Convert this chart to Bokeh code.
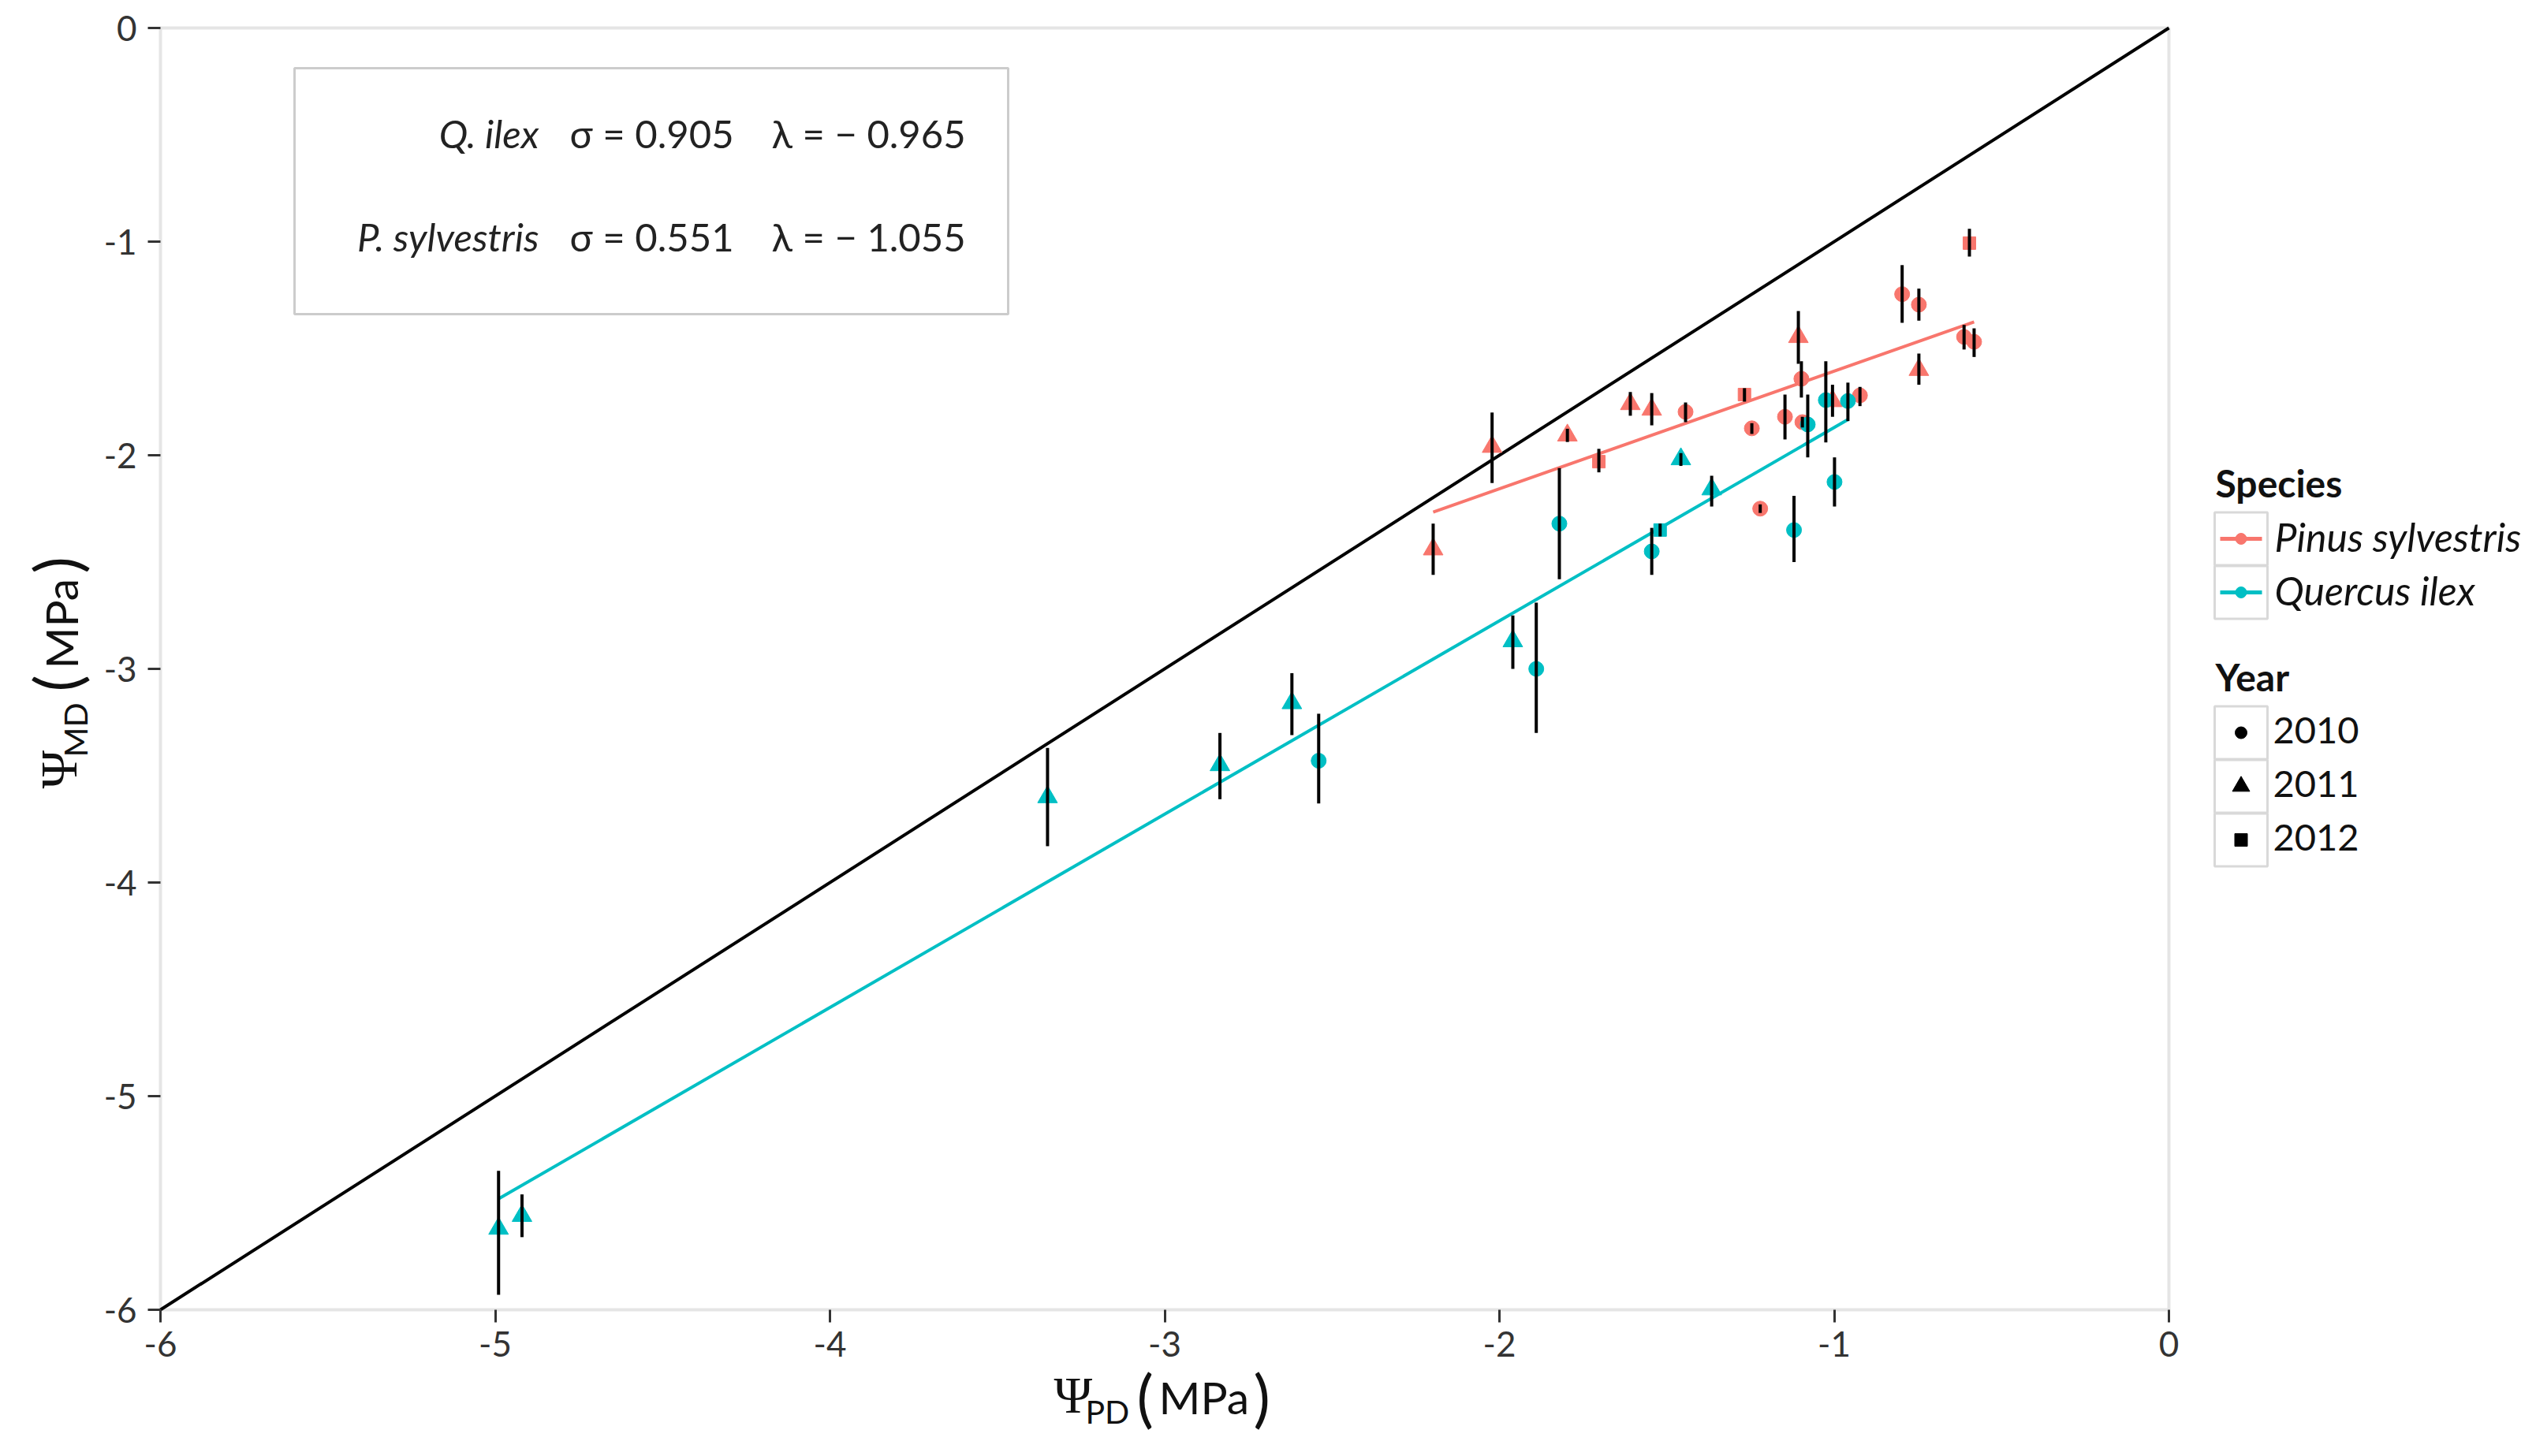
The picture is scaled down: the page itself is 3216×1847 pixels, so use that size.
from bokeh.plotting import figure
from bokeh.models import Range1d, FixedTicker, BoxAnnotation, ColumnDataSource
from bokeh.layouts import row
from bokeh.embed import file_html
from bokeh.resources import INLINE
from bokeh.core.properties import value

# ---------------- data ----------------
species = ["Pinus sylvestris", "Quercus ilex"]
species_short = ["Q. ilex", "P. sylvestris"]
years = ["2010", "2011", "2012"]

# Ecohydrological fit parameters shown in the panel: Psi_MD = lambda + sigma * Psi_PD
fit_species = ["Quercus ilex", "Pinus sylvestris"]
fit_sigma = [0.905, 0.551]
fit_lambda = [-0.965, -1.055]

pinus_x = [-2.198, -2.022, -1.797, -1.703, -1.609, -1.545, -1.444, -1.268, -1.246, -1.221, -1.147,
           -1.107, -1.098, -1.095, -1.005, -0.923, -0.797, -0.747, -0.747, -0.612, -0.596, -0.582]
pinus_y = [-2.44, -1.96, -1.907, -2.03, -1.76, -1.786, -1.797, -1.716, -1.874, -2.25, -1.82,
           -1.446, -1.642, -1.845, -1.746, -1.72, -1.246, -1.295, -1.60, -1.446, -1.007, -1.469]
pinus_lo = [-2.56, -2.13, -1.938, -2.08, -1.815, -1.86, -1.845, -1.749, -1.90, -2.27, -1.926,
            -1.572, -1.73, -1.87, -1.82, -1.77, -1.38, -1.37, -1.67, -1.505, -1.07, -1.54]
pinus_hi = [-2.32, -1.80, -1.876, -1.97, -1.704, -1.709, -1.753, -1.686, -1.85, -2.23, -1.716,
            -1.325, -1.56, -1.82, -1.67, -1.68, -1.11, -1.22, -1.524, -1.39, -0.94, -1.406]
pinus_year = ["2011", "2011", "2011", "2012", "2011", "2011", "2010", "2012", "2010", "2010", "2010",
              "2011", "2010", "2010", "2011", "2010", "2010", "2010", "2011", "2010", "2012", "2010"]

quercus_x = [-4.99, -4.92, -3.35, -2.835, -2.62, -2.54, -1.96, -1.89, -1.821, -1.545, -1.52,
             -1.458, -1.366, -1.12, -1.079, -1.025, -0.999, -0.959]
quercus_y = [-5.62, -5.56, -3.60, -3.45, -3.16, -3.43, -2.87, -3.00, -2.32, -2.45, -2.35,
             -2.018, -2.159, -2.35, -1.856, -1.742, -2.125, -1.746]
quercus_lo = [-5.93, -5.66, -3.83, -3.61, -3.31, -3.63, -3.00, -3.30, -2.58, -2.56, -2.38,
              -2.05, -2.24, -2.50, -2.01, -1.94, -2.24, -1.84]
quercus_hi = [-5.35, -5.46, -3.37, -3.30, -3.02, -3.21, -2.75, -2.69, -2.06, -2.34, -2.32,
              -1.99, -2.096, -2.19, -1.716, -1.56, -2.01, -1.66]
quercus_year = ["2011", "2011", "2011", "2011", "2011", "2010", "2011", "2010", "2010", "2010", "2012",
                "2011", "2011", "2010", "2010", "2010", "2010", "2010"]

axis_ticks = [-6, -5, -4, -3, -2, -1, 0]
axis_tick_labels = ["-6", "-5", "-4", "-3", "-2", "-1", "0"]

# ---------------- styling ----------------
PINK = "#F8766D"
TEAL = "#00BFC4"
FONT = "Lato"
TXT = "#111111"
BORDER = "#a8a8a8"
species_color = {"Pinus sylvestris": PINK, "Quercus ilex": TEAL}
year_marker = {"2010": "circle", "2011": "triangle", "2012": "square"}
year_size = {"2010": 19, "2011": 25, "2012": 16}

# page layout (page pixels): data panel spans x 203..2750, y 35..1661
PANEL_L, PANEL_R, PANEL_T, PANEL_B = 203, 2750, 35, 1661
H = 1847
YT_W = 120                      # y-title strip
MAIN_RIGHT = 2790               # right edge of main figure
P_W = MAIN_RIGHT - YT_W
LEG_W = 420
LO, HI = axis_ticks[0], axis_ticks[-1]


def dx(px):
    return LO + (px - PANEL_L) / (PANEL_R - PANEL_L) * (HI - LO)


def dy(py):
    return HI - (py - PANEL_T) / (PANEL_B - PANEL_T) * (HI - LO)


def blank(fig):
    fig.axis.visible = False
    fig.grid.visible = False
    fig.outline_line_color = None
    fig.background_fill_color = "white"
    fig.border_fill_color = "white"


# the frame fills the whole figure; both axes are pinned to the -6 edges of the data panel
p = figure(width=P_W, height=H, x_range=Range1d(dx(YT_W), dx(MAIN_RIGHT)),
           y_range=Range1d(dy(H), dy(0)),
           output_backend="svg", toolbar_location=None, min_border=0)
p.background_fill_color = "white"
p.border_fill_color = "white"
p.grid.visible = False
p.outline_line_color = None

for ax in (p.xaxis[0], p.yaxis[0]):
    ax.ticker = FixedTicker(ticks=axis_ticks)
    ax.major_label_overrides = {t: l for t, l in zip(axis_ticks, axis_tick_labels)}
    ax.axis_line_color = None
    ax.major_tick_in = 0
    ax.major_tick_out = 16
    ax.major_tick_line_width = 3
    ax.major_tick_line_color = "#333333"
    ax.minor_tick_line_color = None
    ax.major_label_text_font = FONT
    ax.major_label_text_font_size = "44px"
    ax.major_label_text_color = "#333333"
    ax.axis_label = None
    ax.fixed_location = LO
p.xaxis.major_label_standoff = 11
p.yaxis.major_label_standoff = 14

# panel border
p.add_layout(BoxAnnotation(left=LO, right=HI, top=HI, bottom=LO, fill_alpha=0.0,
                           line_color=BORDER, line_width=4, level="underlay"))

# annotation box (under the glyphs)
p.add_layout(BoxAnnotation(left=dx(373), right=dx(1278), top=dy(86), bottom=dy(398),
                           fill_color="white", fill_alpha=1.0, line_color="#555555",
                           line_width=3, level="underlay"))

# 1:1 line across the panel
p.line([LO, HI], [LO, HI], line_color="black", line_width=4)

groups = [
    ("Pinus sylvestris", pinus_x, pinus_y, pinus_lo, pinus_hi, pinus_year),
    ("Quercus ilex", quercus_x, quercus_y, quercus_lo, quercus_hi, quercus_year),
]

# fitted lines  (Psi_MD = lambda + sigma * Psi_PD over each species' range)
for sp, xs, ys, lo, hi, yr in groups:
    i = fit_species.index(sp)
    x0, x1 = min(xs), max(xs)
    p.line([x0, x1], [fit_lambda[i] + fit_sigma[i] * x0, fit_lambda[i] + fit_sigma[i] * x1],
           line_color=species_color[sp], line_width=4)

# points
for sp, xs, ys, lo, hi, yr in groups:
    for y_ in years:
        idx = [k for k in range(len(xs)) if yr[k] == y_]
        if not idx:
            continue
        src = ColumnDataSource(dict(x=[xs[k] for k in idx], y=[ys[k] for k in idx]))
        p.scatter("x", "y", source=src, marker=year_marker[y_], size=year_size[y_],
                  fill_color=species_color[sp], line_color=species_color[sp])

# error bars
for sp, xs, ys, lo, hi, yr in groups:
    src = ColumnDataSource(dict(x=xs, lo=lo, hi=hi))
    p.segment(x0="x", y0="lo", x1="x", y1="hi", source=src, line_color="black", line_width=4)

# annotation text
ann = ColumnDataSource(dict(
    name=species_short,
    sig=["σ = %.3f" % s for s in fit_sigma],
    lam=["λ = − %.3f" % abs(l) for l in fit_lambda],
    y=[dy(168), dy(299)],
    xn=[dx(683)] * 2, xs=[dx(722)] * 2, xl=[dx(978)] * 2,
))
for col, align, style in (("name", "right", "italic"), ("sig", "left", "normal"), ("lam", "left", "normal")):
    xcol = {"name": "xn", "sig": "xs", "lam": "xl"}[col]
    p.text(x=xcol, y="y", text=col, source=ann, text_font=value(FONT), text_font_size="49px",
           text_font_style=style, text_align=align, text_baseline="alphabetic", text_color="#222222")


def ytext(fig, txt, x, y, size, font=FONT, angle=0.0, style="normal"):
    fig.text(x=[x], y=[y], text=[txt], text_font=value(font), text_font_size=size,
             text_font_style=style, text_color=TXT, angle=angle, text_align="left",
             text_baseline="alphabetic")


# x-axis title (below the axis)
ytext(p, "Ψ", dx(1336), dy(1769), "66px", font="Liberation Serif")
ytext(p, "PD", dx(1376), dy(1790), "41px")
ytext(p, "(", dx(1441), dy(1770), "80px")
ytext(p, "MPa", dx(1469), dy(1771), "57px")
ytext(p, ")", dx(1589), dy(1770), "80px")

# ---------------- y-axis title strip ----------------
yt = figure(width=YT_W, height=H, x_range=Range1d(0, YT_W), y_range=p.y_range,
            output_backend="svg", toolbar_location=None, min_border=0)
blank(yt)
A = 1.5707963
ytext(yt, "Ψ", 74, dy(1000), "66px", font="Liberation Serif", angle=A)
ytext(yt, "MD", 95, dy(960), "41px", angle=A)
ytext(yt, "(", 70, dy(877), "80px", angle=A)
ytext(yt, "MPa", 76, dy(848), "57px", angle=A)
ytext(yt, ")", 70, dy(727), "80px", angle=A)

# ---------------- legend panel ----------------
OX = MAIN_RIGHT
leg = figure(width=LEG_W, height=H, x_range=Range1d(0, LEG_W), y_range=Range1d(H, 0),
             output_backend="svg", toolbar_location=None, min_border=0)
blank(leg)


def lx(px):
    return px - OX


KEY_L, KEY_R = lx(2808), lx(2875)
KEY_C = (KEY_L + KEY_R) / 2
HALF = 33.5

ytext(leg, "Species", lx(2809), 612, "48px", style="bold")
sp_centers = [683, 751]
for i, sp in enumerate(species):
    c = sp_centers[i]
    leg.quad(left=[KEY_L], right=[KEY_R], top=[c - HALF], bottom=[c + HALF], fill_color="white",
             line_color="#d9d9d9", line_width=3)
    leg.line([lx(2815), lx(2868)], [c, c], line_color=species_color[sp], line_width=5)
    leg.scatter([KEY_C], [c], marker="circle", size=14, fill_color=species_color[sp],
                line_color=species_color[sp])
    ytext(leg, sp, lx(2884), c - 3, "50px", style="italic")

ytext(leg, "Year", lx(2809), 858, "48px", style="bold")
yr_centers = [929, 997, 1065]
yr_size = {"2010": 15, "2011": 22, "2012": 16}
for i, y_ in enumerate(years):
    c = yr_centers[i]
    leg.quad(left=[KEY_L], right=[KEY_R], top=[c - HALF], bottom=[c + HALF], fill_color="white",
             line_color="#d9d9d9", line_width=3)
    leg.scatter([KEY_C], [c], marker=year_marker[y_], size=yr_size[y_], fill_color="black",
                line_color="black")
    ytext(leg, y_, lx(2882), c - 3, "47px")

layout = row(yt, p, leg)
open("out.html", "w").write(file_html(layout, INLINE))
